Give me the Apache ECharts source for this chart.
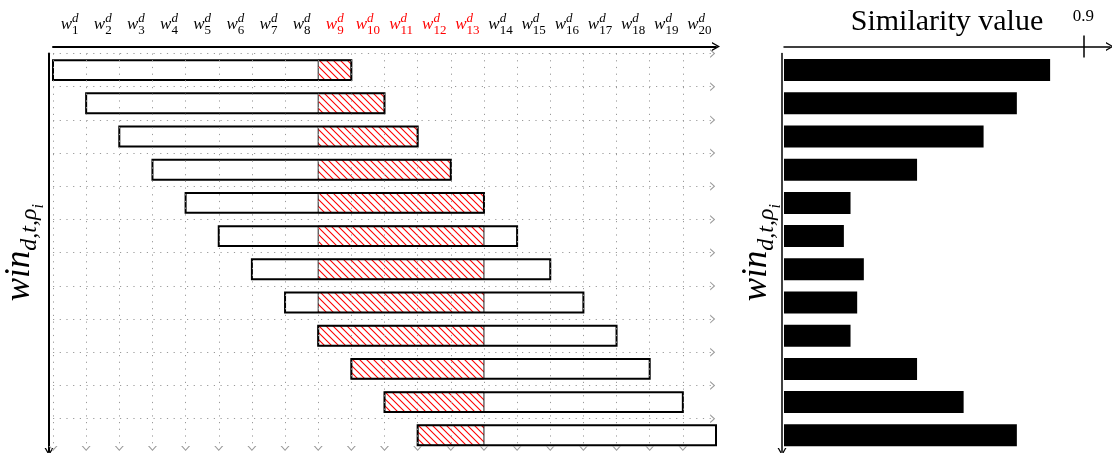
<!DOCTYPE html>
<html>
<head>
<meta charset="utf-8">
<script src="https://cdn.jsdelivr.net/npm/echarts@6/dist/echarts.min.js"></script>
<style>
html, body { margin: 0; padding: 0; background: #fff; }
#chart { width: 1112px; height: 453px; }
</style>
</head>
<body>
<div id="chart"></div>
<script>
// word slots w^d_1 .. w^d_20, the red ones are the matched words
const wordIndex = [1, 2, 3, 4, 5, 6, 7, 8, 9, 10, 11, 12, 13, 14, 15, 16, 17, 18, 19, 20];
const redWords = [9, 10, 11, 12, 13];
// sliding windows: start slot (0 based) and length in words
const windowStarts = [0, 1, 2, 3, 4, 5, 6, 7, 8, 9, 10, 11];
const windowSize = 9;
const hatchRange = [8, 13]; // slots covered by w9..w13
// similarity value of each window
const similarity = [0.8, 0.7, 0.6, 0.4, 0.2, 0.18, 0.24, 0.22, 0.2, 0.4, 0.54, 0.7];
const simTicks = [0.9];

const serif = 'Liberation Serif';
const arrowPath = 'path://M5,0 L10,9 L8.4,9 L5,2.8 L1.6,9 L0,9 Z';
const tipGap = 0.1; // help lines stop a little short so the tip ends on the border

// red "north west lines" pattern
function makeHatch() {
  const c = document.createElement('canvas');
  c.width = 7; c.height = 7;
  const g = c.getContext('2d');
  g.strokeStyle = '#ff0000';
  g.lineWidth = 1.1;
  g.beginPath();
  g.moveTo(-1, -1); g.lineTo(8, 8);
  g.moveTo(-8, -1); g.lineTo(1, 8);
  g.moveTo(6, -1); g.lineTo(15, 8);
  g.stroke();
  return c;
}
const hatchCanvas = makeHatch();

const rows = windowStarts.length;
const slots = wordIndex.length;

// dotted help lines with small tips
const helpLines = [];
for (let k = 0; k < rows; k++) helpLines.push([{ coord: [0, k] }, { coord: [slots - tipGap, k] }]);
for (let k = 0; k < slots; k++) helpLines.push([{ coord: [k, 0] }, { coord: [k, rows - tipGap] }]);

const winData = windowStarts.map((s, i) => [s, s + windowSize, i]);

function renderWindow(params, api) {
  const s = api.value(0), e = api.value(1), row = api.value(2);
  const p0 = api.coord([s, row + 0.2]);
  const p1 = api.coord([e, row + 0.8]);
  const box = { x: p0[0], y: p0[1], width: p1[0] - p0[0], height: p1[1] - p0[1] };
  const children = [{ type: 'rect', shape: box, style: { fill: '#fff' } }];
  const hs = Math.max(s, hatchRange[0]), he = Math.min(e, hatchRange[1]);
  if (he > hs) {
    const h0 = api.coord([hs, row + 0.2]);
    const h1 = api.coord([he, row + 0.8]);
    children.push({
      type: 'rect',
      shape: { x: h0[0], y: h0[1], width: h1[0] - h0[0], height: h1[1] - h0[1] },
      style: { fill: { image: hatchCanvas, repeat: 'repeat' }, stroke: '#222', lineWidth: 1 }
    });
  }
  children.push({ type: 'rect', shape: box, style: { fill: 'none', stroke: '#000', lineWidth: 2 } });
  return { type: 'group', children };
}

function tok(size, extra) {
  return Object.assign({ fontFamily: serif, fontSize: size, lineHeight: size, align: 'left', verticalAlign: 'top', color: '#000' }, extra);
}

const wordRich = {
  hw: tok(17, { fontStyle: 'italic', lineHeight: 4, color: 'rgba(0,0,0,0)' }),
  d: tok(13, { fontStyle: 'italic', lineHeight: 4 }),
  w: tok(17, { fontStyle: 'italic', lineHeight: 12 }),
  s: tok(13, { padding: [8, 0, 0, 0] }),
  dR: tok(13, { fontStyle: 'italic', lineHeight: 4, color: '#ff0000' }),
  wR: tok(17, { fontStyle: 'italic', lineHeight: 12, color: '#ff0000' }),
  sR: tok(13, { padding: [8, 0, 0, 0], color: '#ff0000' })
};

const winName = '{a|win}{b|d,t,ρ}{c|i}';
const winRich = {
  a: tok(35, { fontStyle: 'italic' }),
  b: tok(24, { fontStyle: 'italic', padding: [16, 0, 0, 0] }),
  c: tok(16, { fontStyle: 'italic', padding: [29, 0, 0, 0] })
};

const option = {
  animation: false,
  grid: [
    { left: 53, top: 53.5, width: 663, height: 398.4, outerBoundsMode: 'none' },
    { left: 784, top: 53.5, width: 326, height: 398.4, outerBoundsMode: 'none' }
  ],
  xAxis: [
    {
      gridIndex: 0, type: 'value', position: 'top', offset: 7,
      min: 0, max: slots, interval: 1,
      axisLine: { show: true, onZero: false, symbol: ['none', arrowPath], symbolSize: [10, 8], lineStyle: { color: '#000', width: 2 } },
      axisTick: { show: false }, axisLabel: { show: false }, splitLine: { show: false }
    },
    {
      gridIndex: 0, type: 'category', position: 'top', offset: 7,
      data: wordIndex.map(String),
      axisLine: { show: false, onZero: false }, axisTick: { show: false }, splitLine: { show: false },
      axisLabel: {
        interval: 0, margin: 17,
        formatter: (v) => {
          const r = redWords.indexOf(+v) >= 0 ? 'R' : '';
          return '{hw|w}{d' + r + '|d}\n{w' + r + '|w}{s' + r + '|' + v + '}';
        },
        rich: wordRich
      }
    },
    {
      gridIndex: 1, type: 'value', position: 'top', offset: 7,
      min: 0, max: 0.98,
      name: 'Similarity value', nameLocation: 'middle', nameGap: 9, nameMoveOverlap: false,
      nameTextStyle: { fontFamily: serif, fontSize: 30, color: '#000' },
      axisLine: { show: true, onZero: false, symbol: ['none', arrowPath], symbolSize: [10, 8], lineStyle: { color: '#000', width: 1.5 } },
      axisTick: { show: true, customValues: simTicks, length: 11, lineStyle: { color: '#000', width: 1.5 } },
      axisLabel: { show: true, customValues: simTicks, margin: 21, fontFamily: serif, fontSize: 17, color: '#000' },
      splitLine: { show: false }
    },
    {
      gridIndex: 1, type: 'value', position: 'top', offset: 7,
      min: 0, max: 0.98,
      axisLine: { show: false, onZero: false }, axisLabel: { show: false }, splitLine: { show: false },
      axisTick: { show: true, inside: true, customValues: simTicks, length: 11, lineStyle: { color: '#000', width: 1.5 } }
    }
  ],
  yAxis: [
    {
      gridIndex: 0, type: 'value', inverse: true, min: 0, max: rows, offset: 4,
      name: winName, nameLocation: 'middle', nameRotate: 90, nameGap: 12,
      nameTextStyle: { rich: winRich },
      axisLine: { show: true, onZero: false, symbol: [arrowPath, 'none'], symbolSize: [10, 8], lineStyle: { color: '#000', width: 2 } },
      axisTick: { show: false }, axisLabel: { show: false }, splitLine: { show: false }
    },
    {
      gridIndex: 1, type: 'category', inverse: true, offset: 2,
      data: windowStarts.map(String),
      name: winName, nameLocation: 'middle', nameRotate: 90, nameGap: 8,
      nameTextStyle: { rich: winRich },
      axisLine: { show: true, onZero: false, symbol: [arrowPath, 'none'], symbolSize: [10, 8], lineStyle: { color: '#000', width: 1.5 } },
      axisTick: { show: false }, axisLabel: { show: false }, splitLine: { show: false }
    }
  ],
  series: [
    {
      type: 'line', xAxisIndex: 0, yAxisIndex: 0, data: [], silent: true, z: 1,
      markLine: {
        silent: true, animation: false,
        symbol: ['none', arrowPath], symbolSize: [9, 5],
        label: { show: false },
        lineStyle: { color: '#9a9a9a', width: 1, type: [1.2, 5.5] },
        emphasis: { disabled: true },
        data: helpLines
      }
    },
    {
      type: 'custom', xAxisIndex: 0, yAxisIndex: 0, z: 3,
      renderItem: renderWindow,
      encode: { x: [0, 1], y: 2 },
      data: winData
    },
    {
      type: 'bar', xAxisIndex: 2, yAxisIndex: 1,
      barWidth: 22, itemStyle: { color: '#000' },
      data: similarity
    }
  ]
};

const chart = echarts.init(document.getElementById('chart'));
chart.setOption(option);
</script>
</body>
</html>
